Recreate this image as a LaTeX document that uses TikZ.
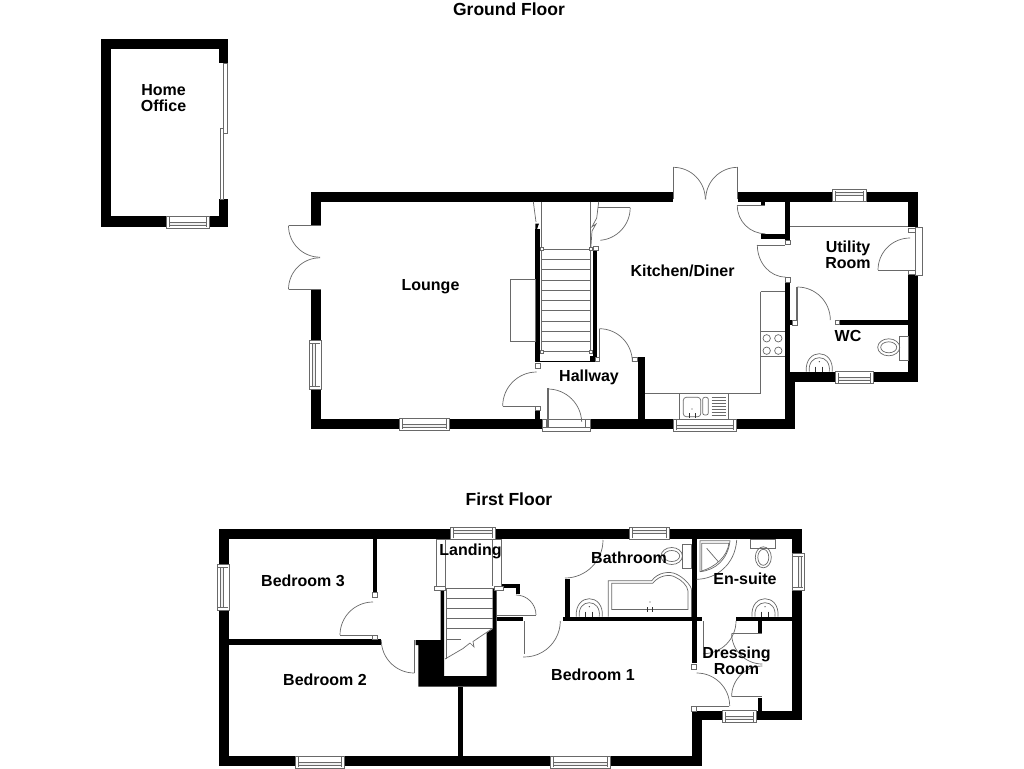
\documentclass[tikz,border=0pt]{standalone}
\usepackage{fontspec}
\setmainfont{Liberation Sans}
\definecolor{ln}{RGB}{105,105,105}
\tikzset{
  x=1pt,y=-1pt,
  thin line/.style={draw=ln,line width=0.7pt},
  label text/.style={font=\fontsize{16}{16}\selectfont\bfseries,text=black,inner sep=0pt,align=center,text depth=0pt},
  title text/.style={font=\fontsize{17.5}{17.5}\selectfont\bfseries,text=black,inner sep=0pt,align=center,text depth=0pt},
}
\newcommand{\wall}[4]{\fill[black] (#1,#2) rectangle (#3,#4);}
\newcommand{\jamb}[3]{\filldraw[thin line,fill=white] (#1,#2) rectangle ++(#3,#3);}
% horizontal window: x1 x2 yinner dir
\newcommand{\winH}[4]{%
  \filldraw[thin line,fill=white] ({#1},{#3}) rectangle ({#2},{#3+#4*12});
  \draw[thin line] ({#1+3},{#3+#4*1}) -- ({#1+3},{#3+#4*11}) ({#2-3},{#3+#4*1}) -- ({#2-3},{#3+#4*11});
  \filldraw[thin line,fill=black!6] ({#1+3},{#3+#4*6}) rectangle ({#2-3},{#3+#4*9});
}
\newcommand{\winV}[4]{%
  \filldraw[thin line,fill=white] ({#3},{#1}) rectangle ({#3+#4*12},{#2});
  \draw[thin line] ({#3+#4*1},{#1+3}) -- ({#3+#4*11},{#1+3}) ({#3+#4*1},{#2-3}) -- ({#3+#4*11},{#2-3});
  \filldraw[thin line,fill=black!6] ({#3+#4*6},{#1+3}) rectangle ({#3+#4*9},{#2-3});
}
% arc: cx cy r start end (angles with y pointing down)
\newcommand{\darc}[5]{\draw[thin line] ({#1+#3*cos(#4)},{#2+#3*sin(#4)}) arc[start angle=#4,end angle=#5,radius=#3];}
\newcommand{\basin}[2]{%
  \draw[thin line] ({#1-13},{#2}) .. controls ({#1-14},{#2-12}) and ({#1-7},{#2-18}) .. ({#1},{#2-18}) .. controls ({#1+7},{#2-18}) and ({#1+14},{#2-12}) .. ({#1+13},{#2});
  \draw[thin line] ({#1-10},{#2}) .. controls ({#1-11},{#2-9}) and ({#1-6},{#2-14}) .. ({#1},{#2-14}) .. controls ({#1+6},{#2-14}) and ({#1+11},{#2-9}) .. ({#1+10},{#2});
  \fill[black!70] ({#1},{#2-10}) circle (0.7);
  \draw[black!80,line width=0.9pt] ({#1-3.5},{#2-5}) -- ({#1-3.5},{#2}) ({#1+3.5},{#2-5}) -- ({#1+3.5},{#2});
}
\begin{document}
\begin{tikzpicture}
\useasboundingbox (0,0) rectangle (1024,768);
\fill[white] (0,0) rectangle (1024,768);

%% ---- Home office ----
\wall{100.7}{39}{228}{49.3}
\wall{100.7}{39}{110.7}{226.7}
\wall{100.7}{216}{228}{226.7}
\wall{218.7}{39}{228}{63.3}
\wall{218.7}{199.3}{228}{226.7}
\winH{166.3}{209}{216}{1}
\draw[thin line] (223.3,63.3) rectangle (227,133);
\draw[thin line] (220,128) rectangle (223.3,199.3);

%% ---- Ground floor walls ----
\wall{310.7}{191.7}{672.7}{201.7}
\wall{738.3}{191.7}{918.3}{201.7}
\wall{310.7}{191.7}{321}{225.7}
\wall{310.7}{289.3}{321}{429}
\wall{310.7}{418.5}{541.7}{429}
\wall{535.3}{229.3}{540}{362}
\wall{592.7}{250.7}{597.3}{356.7}
\wall{590}{356}{597.3}{361.5}
\wall{535.3}{360.5}{592}{361.5}
\wall{535.3}{410}{540}{419}
\wall{590.7}{419}{795}{429}
\wall{638.3}{356.7}{644.7}{419}
\wall{785}{371.7}{795}{429}
\wall{785.3}{381.7}{918.3}{371.7}
\wall{908.3}{191.7}{918.3}{226.7}
\wall{908.3}{275}{918.3}{381.7}
\wall{785.3}{201.7}{790}{240}
\wall{760.7}{234}{790}{239.3}
\wall{760.7}{201.7}{765.3}{205}
\wall{785.3}{282.7}{790}{372}
\wall{790}{320}{792}{325}
\wall{839.3}{319.7}{908.3}{325}

%% ---- Ground floor windows ----
\winV{340}{389.3}{321}{-1}
\winH{399.3}{449}{418.3}{1}
\winH{673.3}{736.7}{419}{1}
\winH{832.3}{866}{201.7}{-1}
\winH{835.7}{873.3}{371.7}{1}

%% ---- Ground floor stairs ----
\foreach \yy in {249.3,259.5,269.8,280,290.2,300.5,310.7,321,331.2,341.5,351.7}
  \draw[thin line] (541.7,\yy) -- (590.7,\yy);
\draw[thin line] (541.7,201.7) -- (541.7,351.7);
\draw[thin line] (590.7,201.7) -- (590.7,351.7);
\draw[thin line] (533.3,201.7) -- (536,222);
\fill[black] (535.3,223.5) -- (539,223.5) -- (537,229.3) -- (535.3,229.3) -- cycle;
\draw[thin line] (598.7,201.7) -- (596.7,218) -- (592,226.7) -- (596,224) -- (592,231) -- (590.7,250);
\jamb{540.3}{247.3}{3}
\jamb{589.3}{247.3}{3}
\jamb{540.3}{350.5}{3}
\jamb{589.3}{350.5}{3}

%% ---- Ground floor doors ----
% lounge french doors
\draw[thin line] (289,225.7) -- (321,225.7) (289,289.3) -- (321,289.3);
\darc{320}{225.7}{31.5}{180}{90}
\darc{320}{289.3}{31.5}{180}{270}
% kitchen french doors
\draw[thin line] (673.3,199.3) -- (673.3,167.3) (737.7,199.3) -- (737.7,167.3);
\darc{673.3}{199.3}{32}{270}{360}
\darc{737.7}{199.3}{32}{270}{180}
% kitchen store door
\draw[thin line] (597.5,207.7) -- (630,207.7);
\darc{597.5}{207.7}{32.7}{0}{85}
\jamb{593.5}{246}{4.7}
% hall to kitchen
\draw[thin line] (599.3,329) -- (599.3,361.7);
\darc{599.3}{361.7}{33}{270}{360}
\jamb{595}{357.3}{4.5}
\jamb{632.7}{357.3}{4.5}
% lounge door
\draw[thin line] (502.7,406) -- (535.3,406);
\darc{536.7}{406}{34}{180}{270}
\jamb{535.3}{363.3}{4.7}
\jamb{535.3}{406}{4.7}
% front door
\draw[thin line] (542.3,419) rectangle (590,431.7);
\draw[thin line] (542.3,427) -- (590,427);
\draw[thin line] (546.5,419) -- (546.5,427) (585.5,419) -- (585.5,427);
\filldraw[thin line,fill=white] (547,388.7) -- (547,426.7) -- (548.5,426.7) -- (548.5,388.7) -- cycle;
\darc{547.7}{423}{34}{270}{358}
% cupboard door
\draw[thin line] (737.3,205.7) -- (765.3,205.7);
\darc{765.3}{205.7}{28}{180}{90}
% kitchen-utility door
\draw[thin line] (757.3,245) -- (785.3,245);
\draw[thin line] (757.3,245) arc[start angle=180,end angle=90,x radius=28,y radius=32];
\jamb{785.3}{240}{4.7}
\jamb{785.3}{277.3}{4.7}
% utility external door
\draw[thin line] (878.3,270) -- (910,270);
\darc{910}{270}{32}{180}{270}
\draw[thin line] (915,227.7) rectangle (922.3,275);
\filldraw[thin line,fill=white] (908.3,228.3) rectangle (915,232.7);
\filldraw[thin line,fill=white] (908.3,270) rectangle (915,274.3);
% shelf
\draw[thin line] (790,226.7) -- (908.3,226.7);
% WC door
\draw[thin line] (797.3,287.3) -- (797.3,320) (796,287.3) -- (796,320);
\darc{797.3}{320}{33}{270}{360}
\jamb{792}{320}{5.3}
\jamb{835}{320}{4.5}

%% ---- Kitchen units ----
\draw[thin line] (760.7,291.7) -- (785,291.7) (760.7,291.7) -- (760.7,393.3);
\draw[thin line] (644.7,393.3) -- (760.7,393.3);
\draw[thin line] (679.3,393.3) -- (679.3,419) (728.3,393.3) -- (728.3,419);
\draw[thin line] (760.7,331.7) -- (785,331.7) (760.7,356.7) -- (785,356.7);
\foreach \cx/\cy in {766.7/338.3,778.3/338.3,766.7/350.7,778.3/350.7}
  \draw[thin line] (\cx,\cy) circle (3.7);
\draw[thin line,rounded corners=3pt] (683.3,397.3) rectangle (700.7,416.7);
\draw[thin line,rounded corners=2pt] (702.7,397.3) rectangle (708.3,415);
\foreach \yy in {397.5,400.5,403.5,406.5,409.5,412.5,415.5}
  \draw[thin line] (711.7,\yy) -- (725.7,\yy);
\fill[black!70] (692,409) circle (0.7);
\draw[black!80,line width=0.9pt] (689,413) -- (689,418) (695,413) -- (695,418);

%% ---- WC fixtures ----
\basin{819.3}{371.7}
\draw[thin line] (899.3,336) rectangle (908.3,360.7);
\draw[thin line] (888.7,347.3) ellipse (11 and 8.5);
\draw[thin line] (888.7,347.3) ellipse (8 and 5.5);

%% ---- Chimney ----
\draw[thin line] (510.7,279.3) rectangle (535.3,341.7);

%% ---- First floor walls ----
\wall{219}{529}{801.7}{539.3}
\wall{219}{529}{229}{766}
\wall{219}{756}{463.3}{766}
\wall{463.3}{756}{701.7}{766}
\wall{691.7}{711}{701.7}{766}
\wall{691.7}{710.7}{801.7}{720}
\wall{792.3}{529}{801.7}{720}
\wall{372.7}{539.3}{377.3}{592.7}
\wall{229}{639.3}{380.7}{645}
\wall{458.3}{686.7}{463.3}{756}
\fill[black] (415.7,640) -- (440.7,640) -- (440.7,588.3) -- (444,588.3) -- (444,676) -- (486.7,676) -- (486.7,633) -- (492.7,629) -- (492.7,588.3) -- (496.7,588.3) -- (496.7,686.7) -- (418.3,686.7) -- (418.3,645) -- (415.7,645) -- cycle;
\wall{501.7}{584}{520}{588.3}
\wall{516}{584}{520}{594}
\wall{496.7}{616.7}{523.3}{621}
\wall{565}{579.3}{570}{617}
\wall{563}{616.7}{702.3}{621}
\wall{692.3}{539.3}{696.7}{663.3}
\wall{736}{616.7}{792.3}{621}
\wall{757.7}{621}{762.3}{633.3}
\wall{757.7}{698}{762.3}{712}

%% ---- First floor windows ----
\winV{564}{610.7}{229}{-1}
\winH{295}{344.3}{756}{1}
\winH{550}{610}{756}{1}
\winH{450}{495}{539.3}{-1}
\winH{629.3}{669.3}{539.3}{-1}
\winV{553.3}{590.7}{792.3}{1}
\winH{722.7}{756.7}{710.7}{1}

%% ---- First floor stairs and landing ----
\foreach \yy/\xe in {588.3/492.7,598.3/492.7,608.3/492.7,618.3/492.7,628.3/492.7,639/461,649/446}
  \draw[thin line] (446,\yy) -- (\xe,\yy);
\draw[thin line] (446,588.3) -- (446,659);
\draw[thin line] (445,659) -- (463,648.5) -- (470,643) -- (474,647) -- (473,641.5) -- (492.7,628.3);
\draw[thin line] (436.7,539.3) -- (436.7,586) (445,539.3) -- (445,586);
\draw[thin line] (492.7,539.3) -- (492.7,586) (501,539.3) -- (501,586);
\filldraw[thin line,fill=white] (434.3,586) rectangle (445,590);
\filldraw[thin line,fill=white] (494.3,586) rectangle (503.3,590);
\draw[thin line] (436.7,539.3) -- (501,539.3);

%% ---- First floor doors ----
% bedroom 3
\draw[thin line] (340,635) -- (372.7,635);
\darc{373}{635}{33}{180}{270}
\jamb{372.7}{592.7}{4.7}
\jamb{372.7}{635}{4.7}
% bedroom 2
\draw[thin line] (414.3,640) -- (414.3,672.7);
\darc{414.3}{640}{33}{180}{90}
% landing cupboard
\draw[thin line] (496.7,615) -- (536,615);
\darc{516}{615}{20}{270}{360}
% bedroom 1
\draw[thin line] (524.3,621) -- (524.3,654.3);
\darc{524.3}{621}{36}{0}{92}
% bathroom
\darc{565}{540}{38}{90}{0}
% en-suite shower
\draw[thin line] (696.7,579.3) .. controls (716,579) and (735,565) .. (736.7,540);
\draw[thin line] (700,540.7) -- (730,540.7) .. controls (728,559) and (716,570) .. (700,571.7) -- cycle;
\draw[thin line] (701.7,543.3) -- (729,543.3) .. controls (727,557) and (715,567) .. (701.7,571) -- cycle;
\draw[thin line] (706.7,548.3) -- (718.3,561.7);
% en-suite door
\draw[thin line] (703.3,621) -- (703.3,646.7);
\darc{703.3}{621}{32.7}{0}{90}
% wardrobe doors
\draw[thin line] (731.7,633.3) -- (762.3,633.3);
\darc{762.3}{633.3}{30.7}{180}{90}
\draw[thin line] (731.7,696.7) -- (762.3,696.7);
\darc{762.3}{696.7}{30.7}{180}{270}
% dressing door
\draw[thin line] (696.7,706) -- (729.3,706);
\darc{696.7}{706}{33}{0}{-90}
\jamb{691.7}{664}{5}
\jamb{691.7}{706.7}{5}

%% ---- First floor fixtures ----
\basin{589.3}{616.7}
\basin{765}{616.7}
\draw[thin line] (682.7,544) rectangle (691.7,568.3);
\draw[thin line] (671.7,556) ellipse (10.7 and 8.5);
\draw[thin line] (671.7,556) ellipse (8 and 5.5);
\draw[thin line] (750.7,539.3) rectangle (775.7,548.3);
\draw[thin line] (763.3,557.3) ellipse (8 and 10.5);
\draw[thin line] (763.3,557.3) ellipse (5.5 and 8);
\draw[thin line] (608.3,616.7) -- (608.3,580.7) -- (651.7,580.7) .. controls (658,572) and (670,571) .. (676,574) .. controls (683,577) and (691,585) .. (691.7,590);
\draw[thin line] (691.7,590) -- (691.7,616.7);
\draw[thin line] (611.7,609.5) -- (611.7,583.3) -- (652.7,583.3) .. controls (659,575) and (670,574) .. (675,577) .. controls (682,580) and (687.5,586) .. (688,591) -- (688,609.5) -- cycle;
\fill[black!70] (650,602) circle (0.7);
\draw[black!80,line width=0.9pt] (647.5,607) -- (647.5,612) (652.5,607) -- (652.5,612);

%% ---- Labels ----
\node[title text] (ground) at (509,9.5) {Ground Floor};
\node[title text] (first) at (509,499) {First Floor};
\node[label text] (office) at (163.5,98.3) {Home\\Office};
\node[label text] (lounge) at (430.5,284.7) {Lounge};
\node[label text] (kitchen) at (682.5,270.8) {Kitchen/Diner};
\node[label text] (hall) at (589,375.3) {Hallway};
\node[label text] (utility) at (848,255) {Utility\\Room};
\node[label text] (wc) at (848,335.8) {WC};
\node[label text] (bed3) at (303,580.5) {Bedroom 3};
\node[label text] (bed2) at (325,679.5) {Bedroom 2};
\node[label text] (bed1) at (593,674.5) {Bedroom 1};
\node[label text] (landing) at (470.5,549.7) {Landing};
\node[label text] (bath) at (629,557.8) {Bathroom};
\node[label text] (ensuite) at (745,578.8) {En-suite};
\node[label text] (dressing) at (736.5,660.8) {Dressing\\Room};
\end{tikzpicture}
\end{document}
